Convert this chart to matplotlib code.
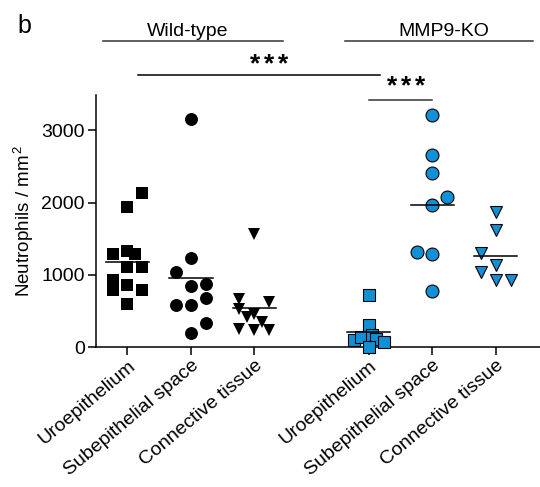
import numpy as np
import matplotlib
matplotlib.use("Agg")
import matplotlib.pyplot as plt
from matplotlib.lines import Line2D
from matplotlib.transforms import ScaledTranslation

plt.rcParams['font.family'] = ['Liberation Sans', 'DejaVu Sans']
plt.rcParams['mathtext.fontset'] = 'custom'
plt.rcParams['mathtext.rm'] = 'Liberation Sans'
plt.rcParams['mathtext.it'] = 'Liberation Sans'

# ---- data ----
categories = ["Uroepithelium", "Subepithelial space", "Connective tissue",
              "Uroepithelium", "Subepithelial space", "Connective tissue"]
groups = ["Wild-type", "MMP9-KO"]

wt_uro = [2126, 1932, 1286, 1328, 1286, 1111, 1111, 936, 798, 867, 798, 604]
wt_sub = [3153, 1231, 1042, 844, 881, 687, 585, 585, 336, 198]
wt_con = [1563, 673, 627, 535, 420, 456, 350, 258, 245, 245]
ko_uro = [729, 314, 101, 138, 170, 111, 78, 0]
ko_sub = [3209, 2651, 2411, 2075, 1964, 1318, 1286, 779]
ko_con = [1871, 1618, 1304, 1134, 1042, 927, 936]

yticks = [0, 1000, 2000, 3000]
sig_labels = ["***", "***"]

# ---- layout (jitter slots, positions) ----
wt_uro_dx = [2, 0, -2, 0, 1, 0, 2, -2, -2, 0, 2, 0]
wt_sub_dx = [0, 0, -2, 0, 2, 2, -2, 0, 2, 0]
wt_con_dx = [0, -2, 2, -2, -1, 0, 1, -2, 0, 2]
ko_uro_dx = [0, 0, -2, -1, 0.5, 1, 2, 0]
ko_sub_dx = [0, 0, 0, 2, 0, -2, 0, 0]
ko_con_dx = [0, 0, -2, 0, -2, 0, 2]

positions = [0, 1, 2, 3.8, 4.8, 5.8]
slot = 0.118
blue = '#1190d6'

series = [
    (wt_uro, wt_uro_dx, 's', 'black', 9.2),
    (wt_sub, wt_sub_dx, 'o', 'black', 9.3),
    (wt_con, wt_con_dx, 'v', 'black', 8.6),
    (ko_uro, ko_uro_dx, 's', blue, 9.2),
    (ko_sub, ko_sub_dx, 'o', blue, 9.3),
    (ko_con, ko_con_dx, 'v', blue, 8.6),
]

W, H = 540, 487
fig = plt.figure(figsize=(W / 100, H / 100), dpi=100)
ax = fig.add_axes([96 / W, 1 - 347.3 / H, (W - 96) / W, (347.3 - 95) / H])

for pos, (vals, dx, mk, col, ms) in zip(positions, series):
    xs = pos + np.array(dx) * slot
    ax.plot(xs, vals, linestyle='none', marker=mk, markersize=ms,
            markerfacecolor=col, markeredgecolor='black',
            markeredgewidth=0.8 if col != 'black' else 0.0,
            clip_on=False, zorder=3)
    m = np.mean(vals)
    ax.plot([pos - 0.34, pos + 0.34], [m, m], color='black', lw=1.1, zorder=4)

ax.set_xlim(-0.496, 6.5)
ax.set_ylim(0, 3485)
ax.set_xticks(positions)
ax.set_xticklabels(categories, rotation=40, ha='right', va='top',
                   rotation_mode='anchor', fontsize=14)
shift = ScaledTranslation(-5 / 100, 0, fig.dpi_scale_trans)
for lab in ax.get_xticklabels():
    lab.set_transform(lab.get_transform() + shift)
ax.set_yticks(yticks)
ax.set_yticklabels([str(t) for t in yticks], fontsize=14)
ax.tick_params(axis='both', direction='out', length=6, width=1.1, color='black', pad=2)
ax.tick_params(axis='x', length=5.5, pad=1.5)
for s in ['top', 'right']:
    ax.spines[s].set_visible(False)
for s in ['left', 'bottom']:
    ax.spines[s].set_linewidth(1.1)
ax.set_ylabel("Neutrophils / mm$^{\\,2}$", fontsize=13.5, labelpad=4)


def fp(x, y):
    return x / W, 1 - y / H


def hline(x0, x1, y, color='#333333', lw=1.1):
    (a, b), (c, d) = fp(x0, y), fp(x1, y)
    fig.add_artist(Line2D([a, c], [b, d], color=color, lw=lw))


def stars(label, cx, base_y, pitch=14):
    n = len(label)
    for i, ch in enumerate(label):
        x = cx + (i - (n - 1) / 2) * pitch
        fig.text(*fp(x, base_y), ch, ha='center', va='baseline',
                 fontsize=19, fontweight='bold')


hline(103, 283, 41)
hline(345, 533, 41)
hline(138, 380, 75, color='black')
hline(369, 432, 100)

fig.text(*fp(188, 36), groups[0], ha='center', va='baseline', fontsize=14)
fig.text(*fp(444, 36), groups[1], ha='center', va='baseline', fontsize=14)
stars(sig_labels[0], 269, 71)
stars(sig_labels[1], 406, 93)
fig.text(*fp(17, 33), "b", ha='left', va='baseline', fontsize=18)

fig.savefig("out.png", dpi=100)
